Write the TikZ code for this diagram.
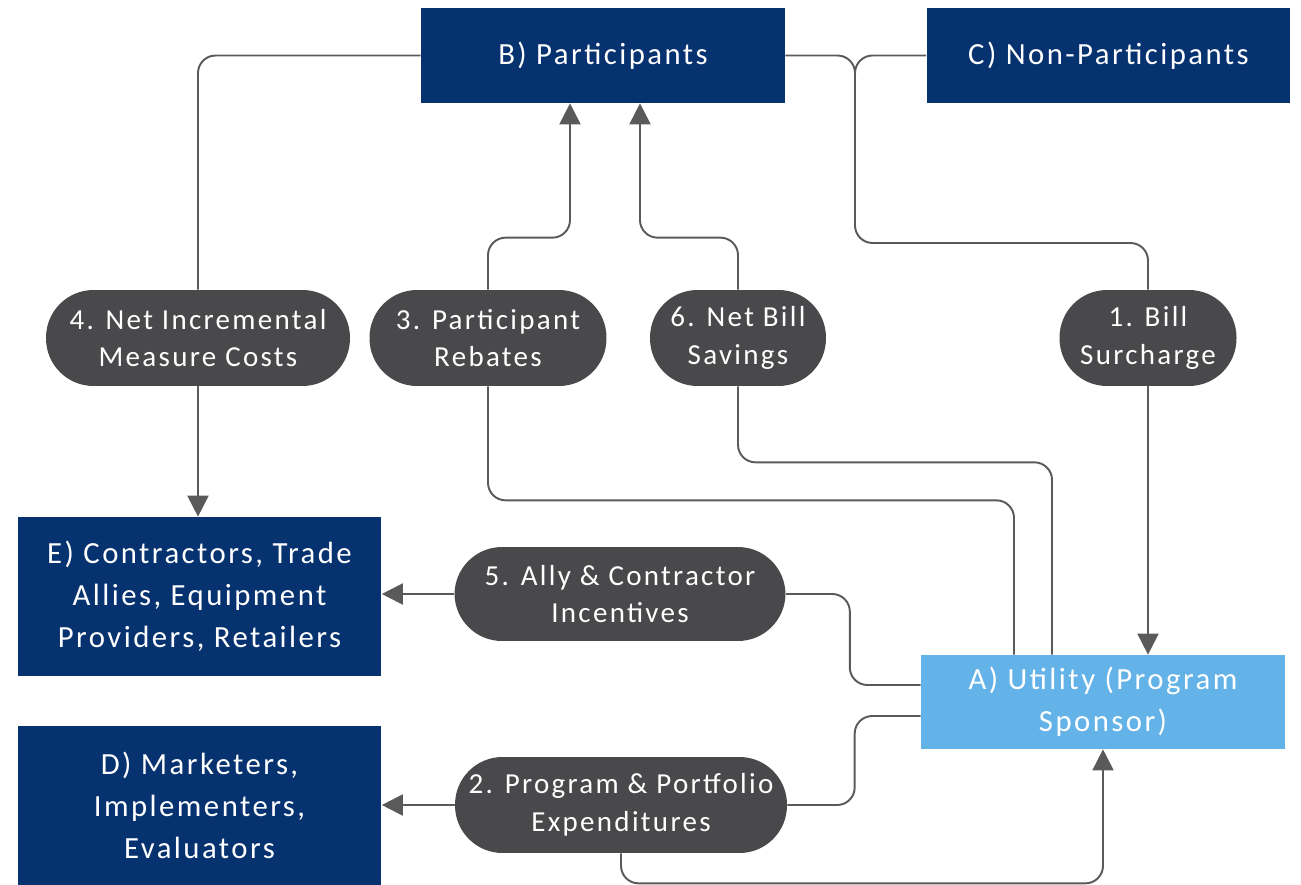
\documentclass[tikz,border=0pt]{standalone}
\usepackage{fontspec}
\setmainfont[LetterSpace=8]{Carlito}
\usetikzlibrary{arrows.meta}

\definecolor{navy}{HTML}{06326F}
\definecolor{skyblue}{HTML}{63B3E8}
\definecolor{pillgray}{HTML}{49494B}
\definecolor{linegray}{HTML}{5A5A5A}

\begin{document}
\begin{tikzpicture}[x=0.02cm, y=-0.02cm,
	party/.style={fill=navy, text=white, align=center, inner sep=0pt, minimum width=7.28cm, font=\fontsize{17.5}{24}\selectfont},
	utility/.style={party, fill=skyblue},
	flow/.style={fill=pillgray, text=white, align=center, inner sep=0pt, minimum height=1.92cm, rounded corners=0.95cm, font=\fontsize{16.5}{21.5}\selectfont},
	link/.style={draw=linegray, line width=1.1pt, rounded corners=10pt},
	arr/.style={link, -{Triangle[length=12pt, width=12pt]}}]
	
	\useasboundingbox (0, 0) rectangle (1301, 885);
	
	\node[party, minimum height=1.9cm] (b) at (603, 55.5) {B) Participants};
	\node[party, minimum height=1.9cm] (c) at (1108.5, 55.5) {C) Non-Participants};
	\node[party, minimum height=3.18cm] (e) at (199.5, 596.5) {E) Contractors, Trade\\Allies, Equipment\\Providers, Retailers};
	\node[party, minimum height=3.18cm] (d) at (199.5, 805.5) {D) Marketers,\\Implementers,\\Evaluators};
	\node[utility, minimum height=1.88cm] (a) at (1103, 702) {A) Utility (Program\\Sponsor)};
	
	\node[flow, minimum width=6.08cm] (p4) at (198, 338) {4. Net Incremental\\Measure Costs};
	\node[flow, minimum width=4.74cm] (p3) at (488, 338) {3. Participant\\Rebates};
	\node[flow, minimum width=3.52cm] (p6) at (738, 338) {6. Net Bill\\Savings};
	\node[flow, minimum width=3.54cm] (p1) at (1148, 338) {1. Bill\\Surcharge};
	\node[flow, minimum width=6.62cm, minimum height=1.88cm] (p5) at (620, 594) {5. Ally \& Contractor\\Incentives};
	\node[flow, minimum width=6.64cm] (p2) at (621, 805) {2. Program \& Portfolio\\Expenditures};
	
	\coordinate (j) at (855, 243);
	\coordinate (jc) at (855, 150);
	
	\draw[link] (b.west) -| (p4.north);
	\draw[arr] (p4.south) -- (p4.south |- e.north);
	
	\draw[arr] (p3.north) -- ++(0, -52) -| ([xshift=-0.66cm]b.south);
	\draw[arr] (p6.north) -- ++(0, -52) -| ([xshift=0.74cm]b.south);
	\draw[link] (p3.south) -- ++(0, 114) -| ([xshift=-1.78cm]a.north);
	\draw[link] (p6.south) -- ++(0, 76) -| ([xshift=-1.02cm]a.north);
	
	\draw[link] (b.east) -| (j) -| (p1.north);
	\draw[link] (c.west) -| (jc);
	\draw[arr] (p1.south) -- (p1.south |- a.north);
	
	\draw[link] (p5.east) -- ++(64, 0) |- ([yshift=0.34cm]a.west);
	\draw[arr] (p5.west) -- (p5.west -| e.east);
	
	\draw[link] ([yshift=-0.28cm]a.west) -- ++(-66, 0) |- (p2.east);
	\draw[arr] (p2.west) -- (p2.west -| d.east);
	\draw[arr] (p2.south) -- ++(0, 30) -| (a.south);
	
\end{tikzpicture}
\end{document}
